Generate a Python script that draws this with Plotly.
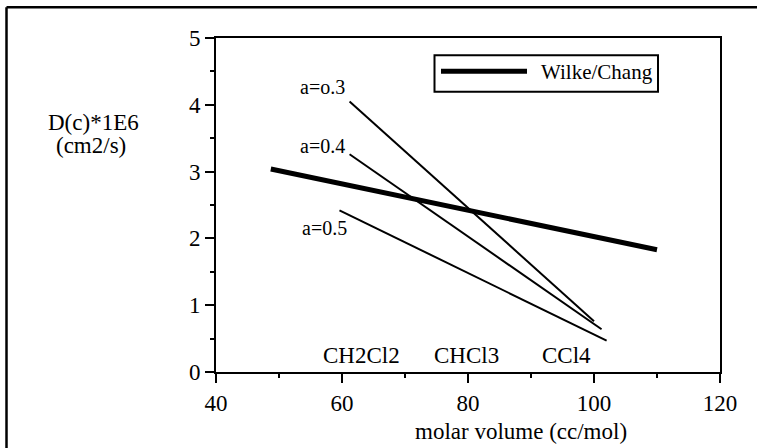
import plotly.graph_objects as go

# Data
vol_wilke = [48.7, 110.0]
d_wilke = [3.04, 1.83]

vol_a03 = [61.2, 100.0]
d_a03 = [4.05, 0.76]
vol_a04 = [61.2, 101.2]
d_a04 = [3.26, 0.64]
vol_a05 = [59.6, 102.0]
d_a05 = [2.42, 0.47]

a_labels = ["a=o.3", "a=0.4", "a=0.5"]
a_label_x = [56.9, 56.9, 57.3]
a_label_y = [4.27, 3.39, 2.16]

solvents = ["CH2Cl2", "CHCl3", "CCl4"]
solvent_x = [63.1, 79.8, 95.7]
solvent_y = [0.25, 0.25, 0.25]

x_ticks = [40, 60, 80, 100, 120]
y_ticks = [0, 1, 2, 3, 4, 5]

FONT = "Liberation Serif"

fig = go.Figure()
for xs, ys in [(vol_a03, d_a03), (vol_a04, d_a04), (vol_a05, d_a05)]:
    fig.add_trace(go.Scatter(x=xs, y=ys, mode="lines",
                             line=dict(color="black", width=2),
                             showlegend=False, hoverinfo="skip"))
fig.add_trace(go.Scatter(x=vol_wilke, y=d_wilke, mode="lines", name="Wilke/Chang",
                         line=dict(color="black", width=5), showlegend=False))

def px_x(p):
    return (p - 216) / 504

def px_y(p):
    return (372 - p) / 334.3

annotations = []
for t, x, y in zip(a_labels, a_label_x, a_label_y):
    annotations.append(dict(x=x, y=y, xref="x", yref="y", text=t, showarrow=False,
                            font=dict(family=FONT, size=20, color="black"),
                            xanchor="center", yanchor="middle"))
for t, x, y in zip(solvents, solvent_x, solvent_y):
    annotations.append(dict(x=x, y=y, xref="x", yref="y", text=t, showarrow=False,
                            font=dict(family=FONT, size=23, color="black"),
                            xanchor="center", yanchor="middle"))

# axis titles
annotations.append(dict(x=px_x(520.8), y=px_y(431.7), xref="paper", yref="paper",
                        text="molar volume (cc/mol)", showarrow=False,
                        font=dict(family=FONT, size=23, color="black"),
                        xanchor="center", yanchor="middle"))
annotations.append(dict(x=px_x(93), y=px_y(122), xref="paper", yref="paper",
                        text="D(c)*1E6", showarrow=False,
                        font=dict(family=FONT, size=23, color="black"),
                        xanchor="center", yanchor="middle"))
annotations.append(dict(x=px_x(91), y=px_y(145), xref="paper", yref="paper",
                        text="(cm2/s)", showarrow=False,
                        font=dict(family=FONT, size=23, color="black"),
                        xanchor="center", yanchor="middle"))
# legend text
annotations.append(dict(x=px_x(539), y=px_y(72), xref="paper", yref="paper",
                        text="Wilke/Chang", showarrow=False,
                        font=dict(family=FONT, size=21, color="black"),
                        xanchor="left", yanchor="middle"))

shapes = [
    # outer frame (left and top edges visible; right/bottom fall outside the picture)
    dict(type="line", xref="paper", yref="paper",
         x0=px_x(6.5), x1=px_x(6.5), y0=px_y(448), y1=px_y(7),
         line=dict(color="black", width=2.5), layer="above"),
    dict(type="line", xref="paper", yref="paper",
         x0=px_x(6.5), x1=px_x(757), y0=px_y(7), y1=px_y(7),
         line=dict(color="black", width=2.5), layer="above"),
    # legend box
    dict(type="rect", xref="paper", yref="paper",
         x0=px_x(434.5), x1=px_x(658), y0=px_y(91.5), y1=px_y(55),
         line=dict(color="black", width=2), fillcolor="white", layer="above"),
    # legend line sample
    dict(type="line", xref="paper", yref="paper",
         x0=px_x(441), x1=px_x(527), y0=px_y(71), y1=px_y(71),
         line=dict(color="black", width=5), layer="above"),
]

fig.update_layout(
    width=757, height=448,
    margin=dict(l=216, r=37, t=38, b=76),
    paper_bgcolor="white", plot_bgcolor="white",
    font=dict(family=FONT, size=22, color="black"),
    annotations=annotations, shapes=shapes,
    showlegend=False,
)
fig.update_xaxes(range=[40, 120], tickvals=x_ticks, ticktext=[str(v) for v in x_ticks],
                 showgrid=False, zeroline=False, showline=True, linecolor="black", linewidth=2,
                 mirror=True, ticks="outside", ticklen=9, tickwidth=2, tickcolor="black",
                 minor=dict(tickvals=[50, 70, 90, 110], ticks="outside", ticklen=4,
                            tickwidth=2, tickcolor="black", showgrid=False),
                 tickfont=dict(family=FONT, size=23, color="black"))
fig.update_yaxes(range=[0, 5], tickvals=y_ticks, ticktext=[str(v) for v in y_ticks],
                 showgrid=False, zeroline=False, showline=True, linecolor="black", linewidth=2,
                 mirror=True, ticks="outside", ticklen=9, tickwidth=2, tickcolor="black",
                 minor=dict(tickvals=[0.5, 1.5, 2.5, 3.5, 4.5], ticks="outside", ticklen=4,
                            tickwidth=2, tickcolor="black", showgrid=False),
                 tickfont=dict(family=FONT, size=23, color="black"))

fig.write_html("out.html", config={"displayModeBar": False})
